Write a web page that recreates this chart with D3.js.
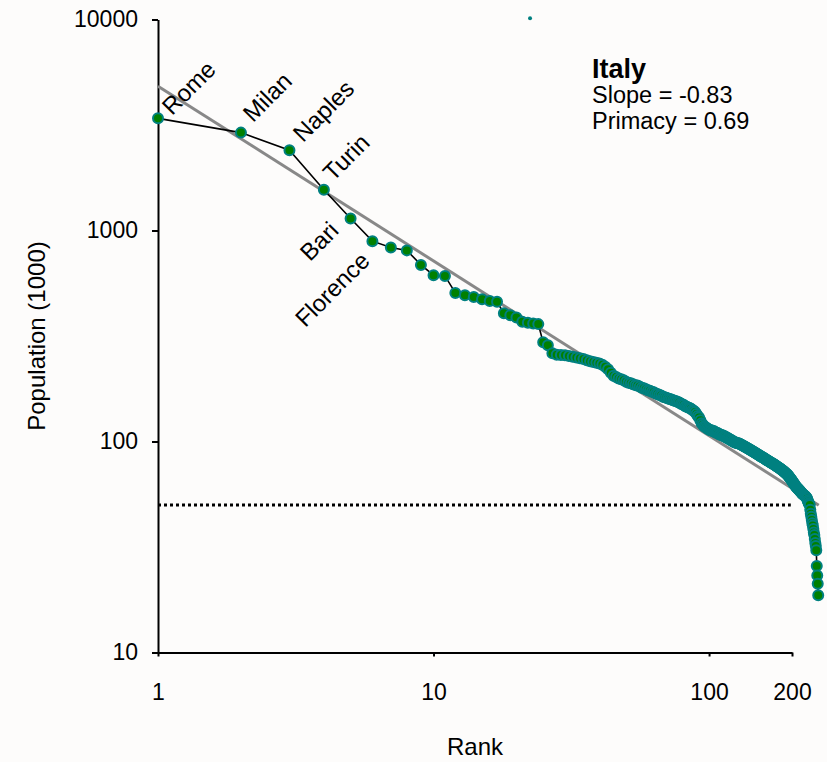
<!DOCTYPE html>
<html>
<head>
<meta charset="utf-8">
<script src="https://cdn.jsdelivr.net/npm/d3@7"></script>
<style>
  body { margin: 0; background: #fdfcfb; }
  svg { display: block; font-family: "Liberation Sans", Arial, sans-serif; }
</style>
</head>
<body>
<svg id="chart"></svg>
<script>
// city populations (1000s), in rank order 1..n
var pops = [
  3400, 2910, 2400, 1560, 1140, 890, 830, 805, 687, 614,
  609, 506, 493, 484, 472, 463, 459, 405, 397, 387,
  369, 365, 362, 360, 295, 286, 262, 258, 257, 256,
  254, 252, 250, 248, 246, 243, 240, 238, 236, 234,
  231, 226, 220, 212, 205, 202, 199, 197, 195, 192,
  190, 189, 187, 185, 184, 182, 180, 179, 177, 175,
  174, 172, 171, 169, 168, 166, 165, 163, 162, 161,
  160, 159, 158, 157, 156, 155, 154, 153, 151, 150,
  149, 147, 146, 145, 144, 143, 141, 140, 138, 135,
  132, 130, 126, 122, 120, 118, 117, 116, 115, 114,
  113, 113, 112, 112, 111, 110, 110, 109, 108, 108,
  107, 107, 106, 106, 105, 104, 104, 103, 102, 102,
  101, 100, 100, 99, 99, 98.5, 98, 98, 97.5, 97,
  96.5, 96, 95.5, 95, 94.5, 94, 93.5, 93, 92.5, 92,
  91.5, 91, 90.5, 90, 89.5, 89, 88.5, 88, 87.5, 87,
  86.5, 86, 85.5, 85, 84.8, 84.3, 84, 83.5, 83, 82.6,
  82.2, 81.8, 81.3, 81, 80.5, 80.1, 79.7, 79.3, 79, 78.6,
  78.3, 78, 77.6, 77.2, 76.8, 76.4, 76, 75.6, 75.2, 74.8,
  74.4, 74, 73.6, 73.2, 72.8, 72.4, 72, 71.6, 71.2, 70.8,
  70.4, 70, 69.4, 68.8, 68.2, 67.6, 67, 66.4, 65.8, 65.2,
  64.6, 64, 63.4, 62.8, 62.2, 61.6, 61, 60.6, 60.2, 59.8,
  59.4, 59, 58.6, 58.2, 57.8, 57.4, 57, 56.6, 56.3, 56,
  55.7, 55.4, 55.1, 54.8, 54.5, 54.2, 53.5, 52.5, 51.8, 51,
  50.5, 50, 47.5, 45.5, 44, 42.5, 41, 40, 38.5, 37,
  36, 34.5, 33, 32, 30.5, 25.7, 23.2, 21.2, 18.7
];

// fitted rank-size line (ends)
var fitRanks = [1, 250];
var fitPops = [4830, 49.9];

// 50k threshold, drawn from rank 1 to about 198
var cutoffRanks = [1, 198];
var cutoffPop = 50;

// city names and where they are written (rank, pop)
var labelNames = ["Rome", "Milan", "Naples", "Turin", "Bari", "Florence"];
var labelRanks = [1.124, 2.21, 3.36, 4.32, 3.56, 3.42];
var labelPops = [3480, 3225, 2593, 1694, 707, 344];

// lone marker near the top edge
var strayRank = [22.4];
var strayPop = [10150];

var xTicks = [1, 10, 100, 200];
var yTicks = [10, 100, 1000, 10000];

var country = "Italy";
var statLines = ["Slope = -0.83", "Primacy = 0.69"];

var width = 827, height = 762;

var svg = d3.select("#chart")
    .attr("width", width)
    .attr("height", height);

var x = d3.scaleLog().domain([1, 200]).range([158, 792]);
var y = d3.scaleLog().domain([10, 10000]).range([652.5, 19.5]);

var data = pops.map(function(p, i) { return { rank: i + 1, pop: p }; });

// axes
var yAxis = svg.append("g")
    .attr("transform", "translate(" + x(1) + ",0)")
    .call(d3.axisLeft(y).tickValues(yTicks).tickFormat(d3.format("d"))
        .tickSize(6).tickSizeOuter(0).tickPadding(14));

var xAxis = svg.append("g")
    .attr("transform", "translate(0," + y(10) + ")")
    .call(d3.axisBottom(x).tickValues(xTicks).tickFormat(d3.format("d"))
        .tickSize(4).tickSizeOuter(0).tickPadding(27));

[xAxis, yAxis].forEach(function(a) {
    a.select(".domain").attr("stroke", "#000").attr("stroke-width", 2);
    a.selectAll(".tick line").attr("stroke", "#000").attr("stroke-width", 2);
    a.selectAll(".tick text")
        .attr("fill", "#000")
        .style("font-size", "23px")
        .style("font-family", "'Liberation Sans', Arial, sans-serif");
});

svg.append("text")
    .attr("text-anchor", "middle")
    .attr("transform", "rotate(-90)")
    .attr("x", -(y(10) + y(10000)) / 2)
    .attr("y", 45)
    .style("font-size", "24px")
    .text("Population (1000)");

svg.append("text")
    .attr("text-anchor", "middle")
    .attr("x", (x(1) + x(200)) / 2)
    .attr("y", 755)
    .style("font-size", "24px")
    .text("Rank");

// threshold line
svg.append("line")
    .attr("x1", x(cutoffRanks[0]))
    .attr("x2", x(cutoffRanks[1]))
    .attr("y1", y(cutoffPop))
    .attr("y2", y(cutoffPop))
    .attr("stroke", "#000")
    .attr("stroke-width", 3)
    .attr("stroke-dasharray", "3,3");

// fit line
svg.append("line")
    .attr("x1", x(fitRanks[0]))
    .attr("x2", x(fitRanks[1]))
    .attr("y1", y(fitPops[0]))
    .attr("y2", y(fitPops[1]))
    .attr("stroke", "#888")
    .attr("stroke-width", 3);

// connecting line
var line = d3.line()
    .x(function(d) { return x(d.rank); })
    .y(function(d) { return y(d.pop); });

svg.append("path")
    .datum(data)
    .attr("fill", "none")
    .attr("stroke", "#000")
    .attr("stroke-width", 1.6)
    .attr("d", line);

svg.selectAll("circle.city")
    .data(data)
    .enter().append("circle")
    .attr("class", "city")
    .attr("cx", function(d) { return x(d.rank); })
    .attr("cy", function(d) { return y(d.pop); })
    .attr("r", 5)
    .attr("fill", "#008000")
    .attr("stroke", "#008080")
    .attr("stroke-width", 2);

svg.selectAll("circle.stray")
    .data(strayRank)
    .enter().append("circle")
    .attr("class", "stray")
    .attr("cx", function(d) { return x(d); })
    .attr("cy", function(d, i) { return y(strayPop[i]); })
    .attr("r", 2)
    .attr("fill", "#008080");

// city labels
svg.selectAll("text.city")
    .data(labelNames)
    .enter().append("text")
    .attr("class", "city")
    .attr("transform", function(d, i) {
        return "translate(" + x(labelRanks[i]) + "," + y(labelPops[i]) + ") rotate(-45)";
    })
    .style("font-size", "24px")
    .text(function(d) { return d; });

// country box
svg.append("text")
    .attr("x", 592)
    .attr("y", 78)
    .style("font-size", "27px")
    .style("font-weight", "bold")
    .text(country);

svg.selectAll("text.stat")
    .data(statLines)
    .enter().append("text")
    .attr("class", "stat")
    .attr("x", 592)
    .attr("y", function(d, i) { return 103 + i * 26; })
    .style("font-size", "23.5px")
    .text(function(d) { return d; });
</script>
</body>
</html>
